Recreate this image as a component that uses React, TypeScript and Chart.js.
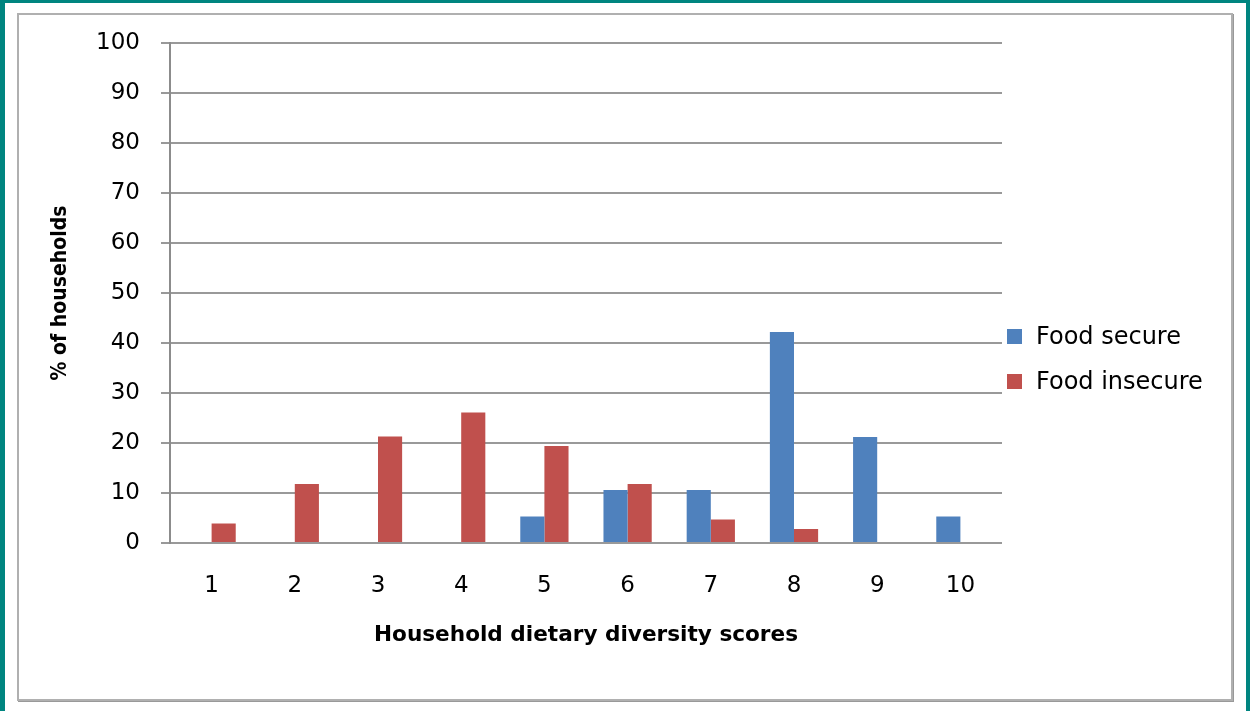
import React, { useEffect, useRef } from "react";
import { Chart, registerables } from "chart.js";

Chart.register(...registerables);

const categories = ["1", "2", "3", "4", "5", "6", "7", "8", "9", "10"];
const foodSecure = [null, null, null, null, 5.3, 10.6, 10.6, 42.2, 21.2, 5.3];
const foodInsecure = [3.9, 11.8, 21.3, 26.1, 19.4, 11.8, 4.7, 2.8, null, null];
const seriesNames = ["Food secure", "Food insecure"];
const seriesColors = ["#4F81BD", "#C0504D"];
const yTitle = "% of households";
const xTitle = "Household dietary diversity scores";

export default function App() {
  const ref = useRef<HTMLCanvasElement | null>(null);

  useEffect(() => {
    document.body.style.margin = "0";
    const canvas = ref.current;
    if (!canvas) return;
    const chart = new Chart(canvas, {
      type: "bar",
      data: {
        labels: categories,
        datasets: [
          {
            label: seriesNames[0],
            data: foodSecure,
            backgroundColor: seriesColors[0],
            categoryPercentage: 0.58,
            barPercentage: 1,
          },
          {
            label: seriesNames[1],
            data: foodInsecure,
            backgroundColor: seriesColors[1],
            categoryPercentage: 0.58,
            barPercentage: 1,
          },
        ],
      },
      options: {
        responsive: false,
        animation: false,
        devicePixelRatio: 1,
        layout: { padding: { left: 0, top: 43, right: 248, bottom: 48 } },
        plugins: {
          legend: { display: false },
          tooltip: { enabled: false },
        },
        scales: {
          x: {
            grid: { display: false, drawTicks: false },
            border: { display: false },
            ticks: {
              color: "#000",
              padding: 29,
              font: { family: "DejaVu Sans", size: 23 },
            },
            title: {
              display: true,
              text: xTitle,
              color: "#000",
              padding: { top: 0, bottom: 15 },
              font: { family: "DejaVu Sans", size: 21.6, weight: "bold" },
            },
            afterFit: (s: any) => {
              s.height = 120;
            },
          },
          y: {
            min: 0,
            max: 100,
            ticks: {
              stepSize: 10,
              color: "#000",
              padding: 21,
              font: { family: "DejaVu Sans", size: 23 },
            },
            grid: {
              color: "#999999",
              lineWidth: 2,
              tickLength: 9,
              drawTicks: true,
            },
            border: { display: true, color: "#8c8c8c", width: 2 },
            title: {
              display: true,
              text: yTitle,
              color: "#000",
              padding: { top: 48, bottom: 0 },
              font: {
                family: '"DejaVu Sans Condensed", "Liberation Sans", Arial',
                size: 21,
                weight: "bold",
              },
            },
            afterFit: (s: any) => {
              s.width = 170;
            },
          },
        },
      },
    });
    return () => chart.destroy();
  }, []);

  const legendRows = seriesNames.map((name, i) => (
    <div
      key={name}
      style={{
        position: "absolute",
        left: 1007,
        top: i === 0 ? 321 : 366,
        height: 30,
        display: "flex",
        alignItems: "center",
      }}
    >
      <div style={{ width: 15, height: 15, background: seriesColors[i] }} />
      <span
        style={{
          marginLeft: 14,
          fontFamily: "DejaVu Sans",
          fontSize: 24,
          color: "#000",
          whiteSpace: "nowrap",
        }}
      >
        {name}
      </span>
    </div>
  ));

  return (
    <div
      style={{
        position: "relative",
        width: 1250,
        height: 711,
        background: "#fff",
        overflow: "hidden",
      }}
    >
      <div style={{ position: "absolute", left: 0, top: 0, width: 5, height: 711, background: "#008580" }} />
      <div style={{ position: "absolute", left: 0, top: 0, width: 1250, height: 3, background: "#008580" }} />
      <div style={{ position: "absolute", left: 1246, top: 0, width: 4, height: 711, background: "#008580" }} />
      <div
        style={{
          position: "absolute",
          left: 17,
          top: 13,
          width: 1216,
          height: 688,
          boxSizing: "border-box",
          border: "2px solid #b0b0b0",
          boxShadow: "1px 1px 0 #999",
        }}
      />
      <canvas
        ref={ref}
        width={1250}
        height={711}
        style={{ position: "absolute", left: 0, top: 0, width: 1250, height: 711 }}
      />
      {legendRows}
    </div>
  );
}
